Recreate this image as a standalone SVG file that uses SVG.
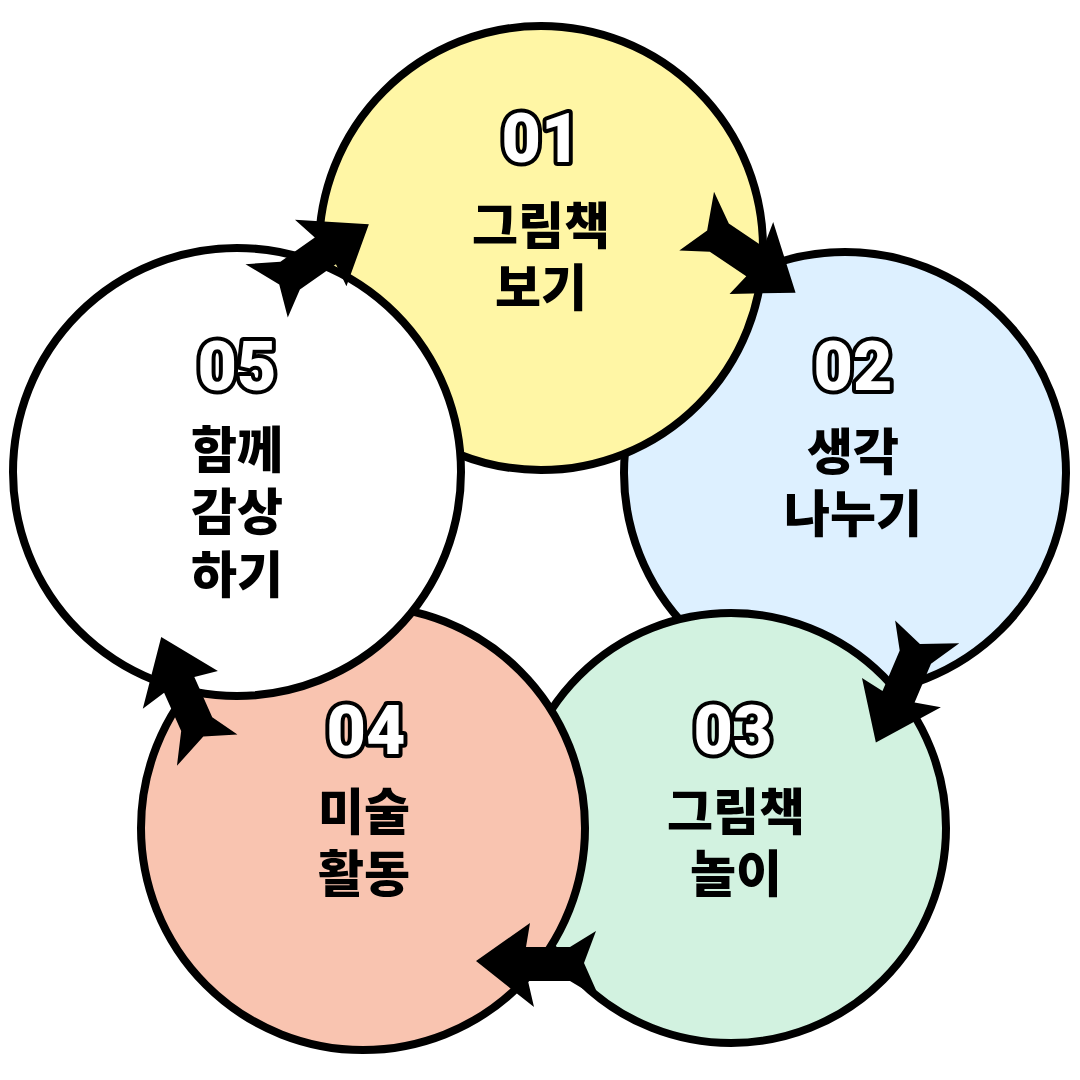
<svg xmlns="http://www.w3.org/2000/svg" width="1080" height="1080" viewBox="0 0 1080 1080">
<style>
.c{stroke:#000;stroke-width:8}
.n{font-family:"Roboto","Noto Sans",sans-serif;font-weight:900;font-size:68px;fill:#fff;stroke:#000;stroke-width:8;stroke-linejoin:round;paint-order:stroke;text-anchor:middle}
.t{font-family:"Noto Sans CJK KR",sans-serif;font-weight:900;font-size:50px;fill:#000;text-anchor:middle}
</style>
<defs>
<path id="ar" d="M0,-34 L30,-16 L72,-16 L66,-42 L124,4 L70,42 L74,18 L30,18 L4,34 L16,2 Z" fill="#000"/>
</defs>
<rect width="1080" height="1080" fill="#fff"/>
<g id="n02"><circle class="c" cx="845" cy="473" r="221" fill="#DDF0FF"/></g>
<g id="n01"><circle class="c" cx="541" cy="248" r="222" fill="#FFF6A5"/></g>
<g id="n03"><circle class="c" cx="731" cy="828" r="215" fill="#D2F2E0"/></g>
<g id="n04"><circle class="c" cx="363" cy="828" r="222" fill="#F9C4B0"/></g>
<g id="n05"><circle class="c" cx="237" cy="472" r="224" fill="#fff"/></g>
<g id="labels">
<text class="n" x="541" y="162">01</text>
<text class="t" x="541" y="244">그림책</text>
<text class="t" x="541" y="306">보기</text>
<text class="n" x="853" y="390">02</text>
<text class="t" x="853" y="470">생각</text>
<text class="t" x="853" y="532">나누기</text>
<text class="n" x="733" y="754">03</text>
<text class="t" x="736" y="830">그림책</text>
<text class="t" x="736" y="892">놀이</text>
<text class="n" x="366" y="754">04</text>
<text class="t" x="364" y="830">미술</text>
<text class="t" x="364" y="892">활동</text>
<text class="n" x="237" y="390">05</text>
<text class="t" x="237" y="468">함께</text>
<text class="t" x="237" y="530">감상</text>
<text class="t" x="237" y="593">하기</text>
</g>
<g id="connectors">
<use href="#ar" transform="translate(695,220) rotate(34)"/>
<use href="#ar" transform="translate(928,630) rotate(113)"/>
<use href="#ar" transform="translate(600,965) rotate(180)"/>
<use href="#ar" transform="translate(208,752) rotate(-114)"/>
<use href="#ar" transform="translate(265,292) rotate(-35)"/>
</g>
</svg>
